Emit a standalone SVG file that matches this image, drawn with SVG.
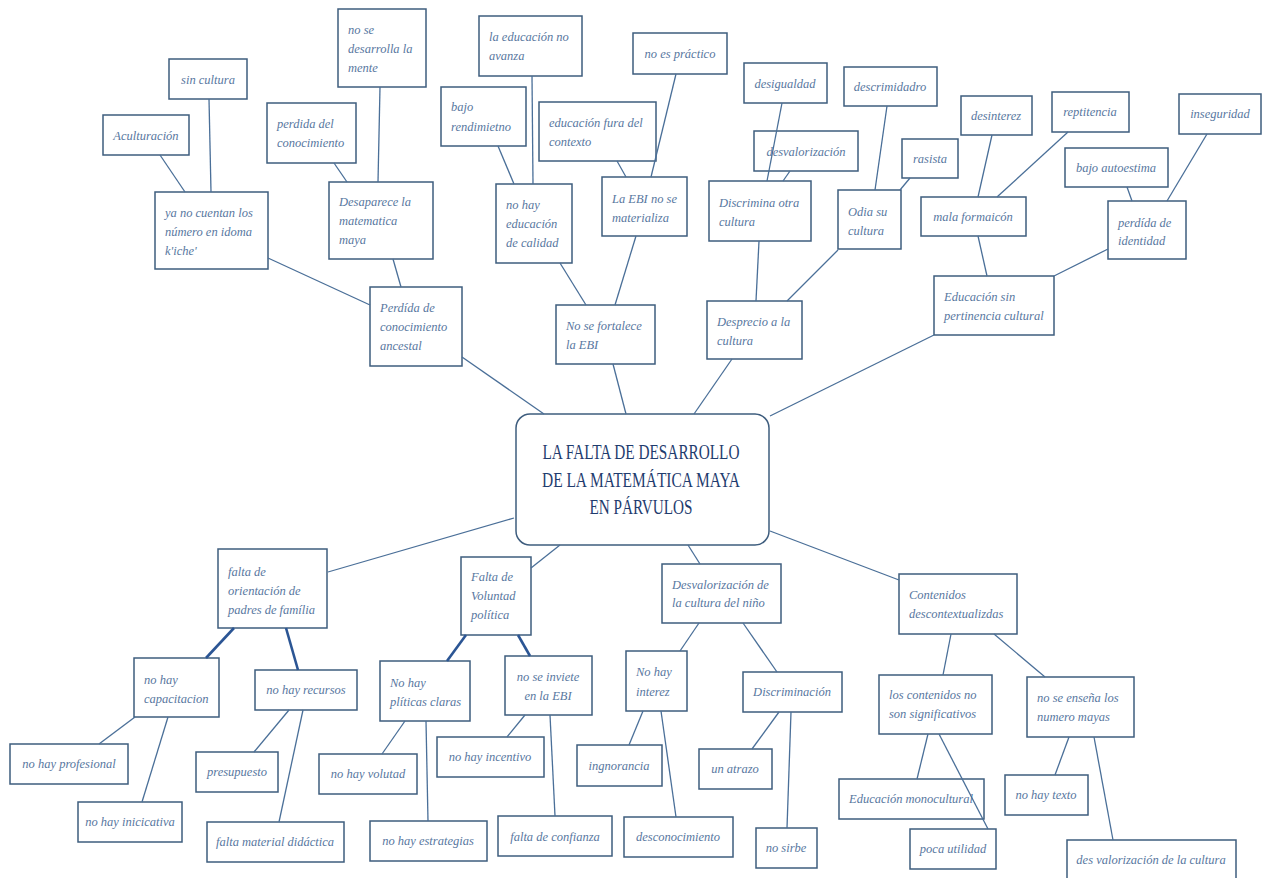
<svg xmlns="http://www.w3.org/2000/svg" width="1268" height="878" viewBox="0 0 1268 878">
<style>
.n rect{fill:#ffffff;stroke:#3e5d7e;stroke-width:1.5}
.n text{font-family:"Liberation Serif",serif;font-style:italic;font-size:12.5px;fill:#5877a0}
.n text.m{text-anchor:middle}
#center rect{fill:#ffffff;stroke:#3e5d7e;stroke-width:1.5}
#center text{font-family:"Liberation Serif",serif;font-size:21px;fill:#1f3c6e;text-anchor:middle}
#connectors line{stroke:#4a6f98;stroke-width:1.3}
#connectors line.thick{stroke:#2b5594;stroke-width:2.6}
</style>
<rect width="1268" height="878" fill="#ffffff"/>
<g id="nodes">
<g class="n" id="n1"><rect x="169" y="59" width="78" height="40"/><text class="m" x="208" y="84">sin cultura</text></g>
<g class="n" id="n2"><rect x="103" y="115" width="86" height="40"/><text class="m" x="146" y="140">Aculturación</text></g>
<g class="n" id="n3"><rect x="155" y="192" width="113" height="77"/><text x="165" y="217">ya no cuentan los</text><text x="165" y="236">número en idoma</text><text x="165" y="255">k'iche'</text></g>
<g class="n" id="n4"><rect x="267" y="103" width="89" height="60"/><text x="277" y="128">perdida del</text><text x="277" y="147">conocimiento</text></g>
<g class="n" id="n5"><rect x="338" y="9" width="88" height="78"/><text x="348" y="34">no se</text><text x="348" y="53">desarrolla la</text><text x="348" y="72">mente</text></g>
<g class="n" id="n6"><rect x="329" y="182" width="104" height="77"/><text x="339" y="206">Desaparece la</text><text x="339" y="225">matematica</text><text x="339" y="244">maya</text></g>
<g class="n" id="n7"><rect x="370" y="287" width="92" height="79"/><text x="380" y="312">Perdída de</text><text x="380" y="331">conocimiento</text><text x="380" y="350">ancestal</text></g>
<g class="n" id="n8"><rect x="479" y="16" width="103" height="60"/><text x="489" y="41">la educación no</text><text x="489" y="60">avanza</text></g>
<g class="n" id="n9"><rect x="633" y="33" width="94" height="41"/><text class="m" x="680" y="58">no es práctico</text></g>
<g class="n" id="n10"><rect x="441" y="87" width="85" height="59"/><text x="451" y="111">bajo</text><text x="451" y="131">rendimietno</text></g>
<g class="n" id="n11"><rect x="539" y="102" width="117" height="59"/><text x="549" y="127">educación fura del</text><text x="549" y="146">contexto</text></g>
<g class="n" id="n12"><rect x="496" y="184" width="76" height="79"/><text x="506" y="209">no hay</text><text x="506" y="228">educación</text><text x="506" y="247">de calidad</text></g>
<g class="n" id="n13"><rect x="602" y="177" width="85" height="59"/><text x="612" y="203">La EBI no se</text><text x="612" y="222">materializa</text></g>
<g class="n" id="n14"><rect x="556" y="305" width="99" height="59"/><text x="566" y="330">No se fortalece</text><text x="566" y="349">la EBI</text></g>
<g class="n" id="n15"><rect x="744" y="63" width="83" height="40"/><text class="m" x="785" y="88">desigualdad</text></g>
<g class="n" id="n16"><rect x="754" y="131" width="104" height="40"/><text class="m" x="806" y="156">desvalorización</text></g>
<g class="n" id="n17"><rect x="709" y="181" width="102" height="60"/><text x="719" y="207">Discrimina otra</text><text x="719" y="226">cultura</text></g>
<g class="n" id="n18"><rect x="844" y="67" width="93" height="39"/><text class="m" x="890" y="91">descrimidadro</text></g>
<g class="n" id="n19"><rect x="902" y="139" width="56" height="39"/><text class="m" x="930" y="163">rasista</text></g>
<g class="n" id="n20"><rect x="838" y="190" width="63" height="59"/><text x="848" y="216">Odia su</text><text x="848" y="235">cultura</text></g>
<g class="n" id="n21"><rect x="707" y="301" width="95" height="58"/><text x="717" y="326">Desprecio a la</text><text x="717" y="345">cultura</text></g>
<g class="n" id="n22"><rect x="961" y="96" width="71" height="39"/><text class="m" x="996" y="120">desinterez</text></g>
<g class="n" id="n23"><rect x="1052" y="92" width="77" height="40"/><text class="m" x="1090" y="116">reptitencia</text></g>
<g class="n" id="n24"><rect x="1179" y="94" width="82" height="40"/><text class="m" x="1220" y="118">inseguridad</text></g>
<g class="n" id="n25"><rect x="1065" y="148" width="103" height="39"/><text class="m" x="1116" y="172">bajo autoestima</text></g>
<g class="n" id="n26"><rect x="921" y="197" width="105" height="39"/><text class="m" x="973" y="221">mala formaicón</text></g>
<g class="n" id="n27"><rect x="1108" y="201" width="78" height="58"/><text x="1118" y="227">perdída de</text><text x="1118" y="245">identidad</text></g>
<g class="n" id="n28"><rect x="934" y="276" width="120" height="59"/><text x="944" y="301">Educación sin</text><text x="944" y="320">pertinencia cultural</text></g>
<g id="center"><rect x="516" y="414" width="253" height="131" rx="14"/><text x="641" y="459" textLength="197" lengthAdjust="spacingAndGlyphs">LA FALTA DE DESARROLLO</text><text x="641" y="487" textLength="198" lengthAdjust="spacingAndGlyphs">DE LA MATEMÁTICA MAYA</text><text x="641" y="514" textLength="103" lengthAdjust="spacingAndGlyphs">EN PÁRVULOS</text></g>
<g class="n" id="n29"><rect x="218" y="549" width="109" height="79"/><text x="228" y="576">falta de</text><text x="228" y="595">orientación de</text><text x="228" y="614">padres de família</text></g>
<g class="n" id="n30"><rect x="134" y="658" width="85" height="59"/><text x="144" y="684">no hay</text><text x="144" y="703">capacitacion</text></g>
<g class="n" id="n31"><rect x="255" y="670" width="102" height="40"/><text class="m" x="306" y="694">no hay recursos</text></g>
<g class="n" id="n32"><rect x="10" y="744" width="118" height="40"/><text class="m" x="69" y="768">no hay profesional</text></g>
<g class="n" id="n33"><rect x="78" y="802" width="104" height="40"/><text class="m" x="130" y="826">no hay inicicativa</text></g>
<g class="n" id="n34"><rect x="196" y="752" width="82" height="40"/><text class="m" x="237" y="776">presupuesto</text></g>
<g class="n" id="n35"><rect x="207" y="822" width="137" height="40"/><text class="m" x="275" y="846">falta material didáctica</text></g>
<g class="n" id="n36"><rect x="461" y="557" width="70" height="78"/><text x="471" y="581">Falta de</text><text x="471" y="600">Voluntad</text><text x="471" y="619">política</text></g>
<g class="n" id="n37"><rect x="380" y="661" width="90" height="60"/><text x="390" y="687">No hay</text><text x="390" y="706">plíticas claras</text></g>
<g class="n" id="n38"><rect x="505" y="656" width="87" height="59"/><text class="m" x="548" y="681">no se inviete</text><text class="m" x="548" y="700">en la EBI</text></g>
<g class="n" id="n39"><rect x="319" y="754" width="98" height="40"/><text class="m" x="368" y="778">no hay volutad</text></g>
<g class="n" id="n40"><rect x="370" y="821" width="117" height="40"/><text class="m" x="428" y="845">no hay estrategias</text></g>
<g class="n" id="n41"><rect x="437" y="737" width="107" height="40"/><text class="m" x="490" y="761">no hay incentivo</text></g>
<g class="n" id="n42"><rect x="498" y="816" width="114" height="40"/><text class="m" x="555" y="841">falta de confianza</text></g>
<g class="n" id="n43"><rect x="662" y="564" width="119" height="59"/><text x="672" y="589">Desvalorización de</text><text x="672" y="607">la cultura del niño</text></g>
<g class="n" id="n44"><rect x="626" y="651" width="61" height="60"/><text x="636" y="676">No hay</text><text x="636" y="696">interez</text></g>
<g class="n" id="n45"><rect x="743" y="672" width="99" height="40"/><text class="m" x="792" y="696">Discriminación</text></g>
<g class="n" id="n46"><rect x="577" y="745" width="85" height="41"/><text class="m" x="619" y="770">ingnorancia</text></g>
<g class="n" id="n47"><rect x="624" y="817" width="109" height="40"/><text class="m" x="678" y="841">desconocimiento</text></g>
<g class="n" id="n48"><rect x="699" y="749" width="73" height="40"/><text class="m" x="735" y="773">un atrazo</text></g>
<g class="n" id="n49"><rect x="756" y="828" width="61" height="40"/><text class="m" x="786" y="852">no sirbe</text></g>
<g class="n" id="n50"><rect x="899" y="574" width="118" height="60"/><text x="909" y="599">Contenidos</text><text x="909" y="618">descontextualizdas</text></g>
<g class="n" id="n51"><rect x="879" y="675" width="113" height="59"/><text x="889" y="699">los contenidos no</text><text x="889" y="718">son significativos</text></g>
<g class="n" id="n52"><rect x="1027" y="677" width="107" height="60"/><text x="1037" y="702">no se enseña los</text><text x="1037" y="721">numero mayas</text></g>
<g class="n" id="n53"><rect x="839" y="779" width="145" height="40"/><text x="849" y="803">Educación monocultural</text></g>
<g class="n" id="n54"><rect x="910" y="829" width="86" height="40"/><text class="m" x="953" y="853">poca utilidad</text></g>
<g class="n" id="n55"><rect x="1005" y="775" width="83" height="40"/><text class="m" x="1046" y="799">no hay texto</text></g>
<g class="n" id="n56"><rect x="1067" y="840" width="169" height="40"/><text class="m" x="1151" y="864">des valorización de la cultura</text></g>
</g>
<g id="connectors">
<line x1="160" y1="155" x2="185" y2="192"/>
<line x1="209" y1="99" x2="211" y2="192"/>
<line x1="334" y1="163" x2="347" y2="182"/>
<line x1="380" y1="87" x2="378" y2="182"/>
<line x1="268" y1="258" x2="370" y2="305"/>
<line x1="393" y1="259" x2="401" y2="287"/>
<line x1="462" y1="357" x2="544" y2="414"/>
<line x1="498" y1="146" x2="514" y2="184"/>
<line x1="532" y1="76" x2="533" y2="184"/>
<line x1="617" y1="161" x2="626" y2="177"/>
<line x1="676" y1="74" x2="651" y2="177"/>
<line x1="560" y1="263" x2="586" y2="305"/>
<line x1="636" y1="236" x2="615" y2="305"/>
<line x1="613" y1="364" x2="626" y2="414"/>
<line x1="782" y1="103" x2="767" y2="181"/>
<line x1="790" y1="171" x2="783" y2="181"/>
<line x1="759" y1="241" x2="756" y2="301"/>
<line x1="887" y1="106" x2="875" y2="190"/>
<line x1="910" y1="178" x2="900" y2="190"/>
<line x1="838" y1="250" x2="787" y2="301"/>
<line x1="732" y1="359" x2="694" y2="414"/>
<line x1="992" y1="135" x2="978" y2="197"/>
<line x1="1068" y1="132" x2="997" y2="197"/>
<line x1="978" y1="236" x2="987" y2="276"/>
<line x1="1127" y1="187" x2="1132" y2="201"/>
<line x1="1207" y1="134" x2="1167" y2="201"/>
<line x1="1108" y1="249" x2="1054" y2="276"/>
<line x1="934" y1="335" x2="770" y2="416"/>
<line x1="514" y1="518" x2="328" y2="572"/>
<line class="thick" x1="234" y1="628" x2="206" y2="658"/>
<line class="thick" x1="286" y1="628" x2="298" y2="670"/>
<line x1="135" y1="717" x2="99" y2="744"/>
<line x1="168" y1="717" x2="142" y2="802"/>
<line x1="289" y1="710" x2="254" y2="752"/>
<line x1="303" y1="710" x2="279" y2="822"/>
<line x1="560" y1="545" x2="531" y2="568"/>
<line class="thick" x1="466" y1="635" x2="447" y2="661"/>
<line class="thick" x1="518" y1="635" x2="530" y2="656"/>
<line x1="405" y1="721" x2="382" y2="754"/>
<line x1="426" y1="721" x2="428" y2="821"/>
<line x1="525" y1="715" x2="507" y2="737"/>
<line x1="550" y1="715" x2="555" y2="816"/>
<line x1="688" y1="545" x2="700" y2="564"/>
<line x1="699" y1="623" x2="680" y2="651"/>
<line x1="743" y1="623" x2="777" y2="672"/>
<line x1="643" y1="711" x2="629" y2="745"/>
<line x1="661" y1="711" x2="676" y2="817"/>
<line x1="779" y1="712" x2="752" y2="749"/>
<line x1="791" y1="712" x2="787" y2="828"/>
<line x1="770" y1="531" x2="899" y2="580"/>
<line x1="951" y1="634" x2="943" y2="675"/>
<line x1="994" y1="634" x2="1045" y2="677"/>
<line x1="928" y1="734" x2="917" y2="779"/>
<line x1="939" y1="734" x2="988" y2="829"/>
<line x1="1069" y1="737" x2="1055" y2="775"/>
<line x1="1094" y1="737" x2="1113" y2="840"/>
</g>
</svg>
